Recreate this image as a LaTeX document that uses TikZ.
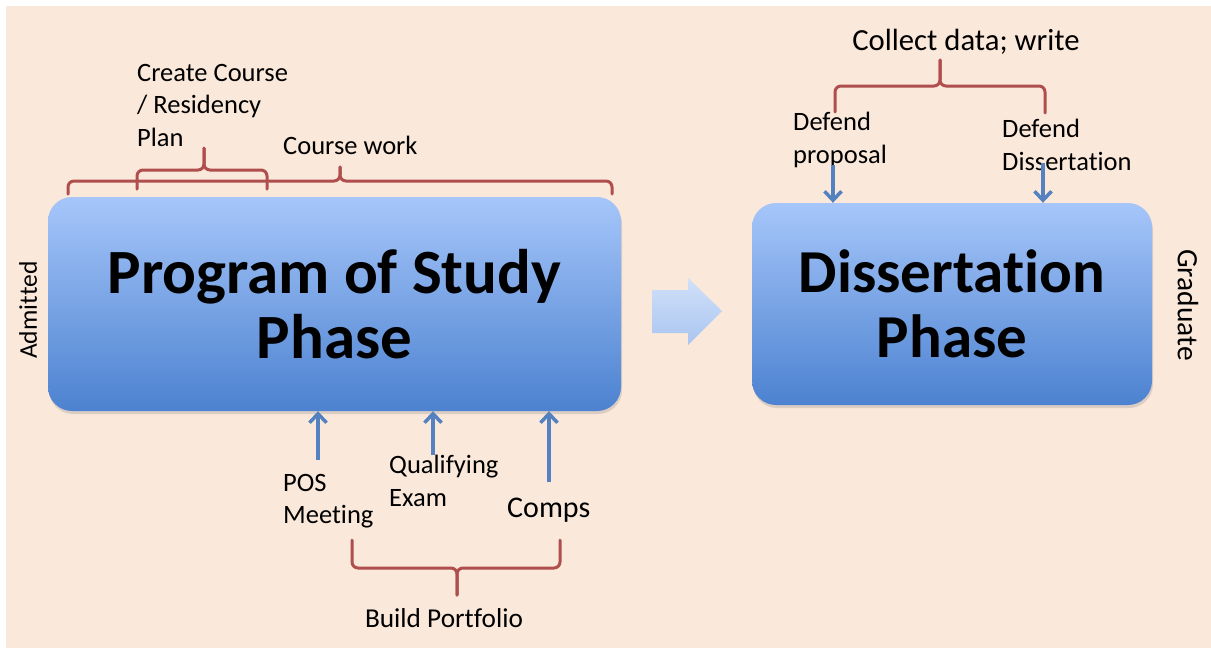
\documentclass[tikz,border=0pt]{standalone}
\usepackage{fontspec}
\setmainfont[Ligatures=NoCommon]{Carlito}
\usetikzlibrary{arrows.meta,shadows}

\definecolor{paper}{RGB}{250,232,218}
\definecolor{boxtop}{RGB}{166,198,250}
\definecolor{boxbot}{RGB}{76,130,208}
\definecolor{bracered}{RGB}{176,78,78}
\definecolor{pointer}{RGB}{84,130,192}
\definecolor{arrtop}{RGB}{208,224,249}
\definecolor{arrbot}{RGB}{170,197,240}

\begin{document}
\begin{tikzpicture}[x=1pt,y=-1pt,
  phase/.style={rounded corners=24pt, top color=boxtop, bottom color=boxbot,
    inner sep=0pt, align=center,
    drop shadow={shadow xshift=1pt, shadow yshift=-3pt, opacity=0.25}},
  label/.style={inner sep=0pt, align=left, font=\fontsize{26.5}{32.5}\selectfont},
  brace/.style={draw=bracered, line width=3pt, rounded corners=6pt, line cap=round},
  pointer/.style={draw=pointer, line width=3.5pt,
    -{Straight Barb[length=9pt,width=17pt]}},
]
\useasboundingbox (0,0) rectangle (1211,648);
\fill[white] (0,0) rectangle (1211,648);
\fill[paper] (6,6) rectangle (1211,648);

% the two phases
\node[phase, minimum width=573pt, minimum height=214pt,
  font=\bfseries\fontsize{63}{65}\selectfont] (study) at (334.5,304)
  {Program of Study\\Phase};
\node[phase, minimum width=400pt, minimum height=202pt,
  font=\bfseries\fontsize{61}{65}\selectfont] (diss) at (952,304)
  {Dissertation\\Phase};

% block arrow between the phases
\shade[top color=arrtop, bottom color=arrbot]
  (652,290) -- (688,290) -- (688,278) -- (722,311) -- (688,345) -- (688,333)
  -- (652,333) -- cycle;

% side labels
\node[label, rotate=90, anchor=center, font=\fontsize{25.5}{30}\selectfont]
  (admitted) at (28,310) {Admit\kern0.4pt ted};
\node[label, rotate=-90, anchor=center, font=\fontsize{29.5}{32}\selectfont]
  (graduate) at (1188,305) {Graduate};

% labels above the program of study
\node[label, anchor=west] (plan) at (137,105) {Create Course\\/ Residency\\Plan};
\node[label, anchor=west] (coursework) at (283,145) {Course work};
\draw[brace] (68,194) -- (68,181) -- (340,181) -- (340,167);
\draw[brace] (340,167) -- (340,181) -- (612,181) -- (612,194);
\draw[brace] (137,189) -- (137,170) -- (204,170) -- (204,148);
\draw[brace] (204,148) -- (204,170) -- (267,170) -- (267,189);

% milestones below the program of study
\node[label, anchor=west] (pos) at (283,501) {POS\\Meeting};
\node[label, anchor=west] (qual) at (389,481) {Qualifying\\Exam};
\node[label, anchor=west, font=\fontsize{30}{34}\selectfont] (comps) at (507,510) {Comps};
\node[label, anchor=center, font=\fontsize{27.3}{30}\selectfont] (build) at (444,618) {Build Portfolio};
\coordinate (posTail) at (318,460);
\coordinate (qualTail) at (433,455);
\coordinate (compsTail) at (549,482);
\draw[pointer] (posTail) -- (posTail |- study.south);
\draw[pointer] (qualTail) -- (qualTail |- study.south);
\draw[pointer] (compsTail) -- (compsTail |- study.south);
\draw[brace] (352,540) -- (352,568) -- (457,568) -- (457,595);
\draw[brace] (457,595) -- (457,568) -- (560,568) -- (560,540);

% milestones above the dissertation
\node[label, anchor=center, font=\fontsize{30.7}{34}\selectfont] (collect) at (966,42) {Collect data; write};
\node[label, anchor=west] (defprop) at (793,140) {Defend\\proposal};
\node[label, anchor=west] (defdiss) at (1002,145) {Defend\\Dissertation};
\draw[brace] (835,112) -- (835,86) -- (940,86) -- (940,60);
\draw[brace] (940,60) -- (940,86) -- (1045,86) -- (1045,113);
\coordinate (propTail) at (833,165);
\coordinate (dissTail) at (1043,163);
\draw[pointer] (propTail) -- (propTail |- diss.north);
\draw[pointer] (dissTail) -- (dissTail |- diss.north);
\end{tikzpicture}
\end{document}
